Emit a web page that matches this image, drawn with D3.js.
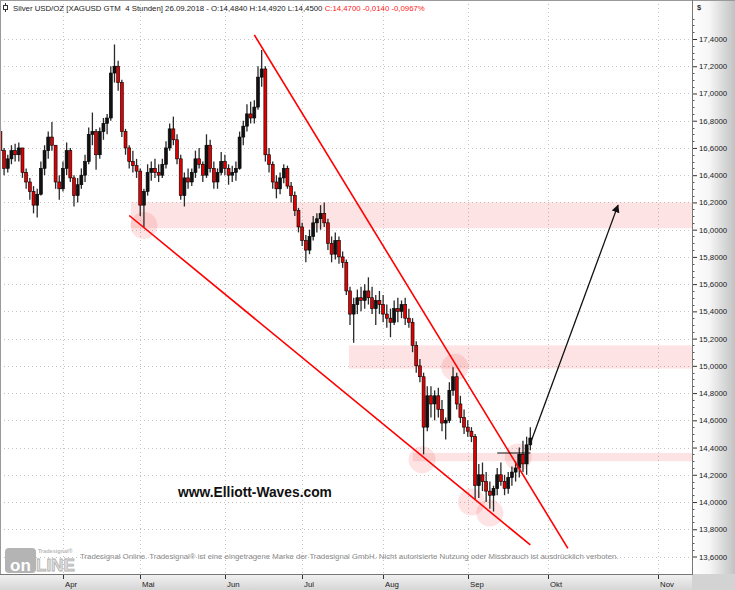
<!DOCTYPE html>
<html>
<head>
<meta charset="utf-8">
<script src="https://cdn.jsdelivr.net/npm/d3@7"></script>
<style>
  html, body { margin: 0; padding: 0; background: #fff; }
  svg { display: block; font-family: "Liberation Sans", Arial, sans-serif; }
</style>
</head>
<body>
<svg id="chart" width="735" height="590"></svg>
<script>
// ===== data: daily OHLC (8 Mar - 26 Sep 2018) =====
var firstDay = "2018-03-08";
var lastDay = "2018-09-26";
var lastSlot = "2018-11-10";

var opens = [
  16.72,16.58,16.45,16.52,16.58,16.55,16.60,16.42,16.35,16.28,16.18,16.26,16.45,16.58,16.68,16.62,16.35,
  16.30,16.45,16.58,16.38,16.25,16.33,16.40,16.50,16.70,16.72,16.55,16.72,16.78,16.82,17.15,17.20,17.08,16.72,16.60,16.50,16.47,
  16.43,16.18,16.28,16.42,16.45,16.42,16.40,16.48,16.60,16.74,16.66,16.52,16.25,16.38,16.35,16.42,16.52,16.48,16.40,16.62,16.45,16.35,16.42,
  16.50,16.45,16.40,16.42,16.45,16.68,16.76,16.85,16.82,16.90,17.12,17.18,16.55,16.48,16.35,16.30,16.38,16.45,16.32,16.25,16.14,
  16.02,15.92,15.85,15.95,16.05,16.08,16.12,16.05,15.90,15.82,15.92,15.80,15.76,15.55,15.38,15.45,15.50,15.48,15.55,15.50,15.42,15.48,
  15.45,15.38,15.35,15.32,15.42,15.40,15.45,15.35,15.32,15.15,15.00,14.92,14.55,14.78,14.72,14.78,14.68,14.58,14.60,14.82,14.92,14.72,14.62,
  14.55,14.52,14.48,14.12,14.20,14.15,14.08,14.05,14.10,14.20,14.15,14.10,14.18,14.22,14.25,14.35,14.28,14.42
];
var highs = [
  16.75,16.60,16.55,16.62,16.63,16.64,16.60,16.45,16.38,16.32,16.30,16.50,16.62,16.72,16.79,16.62,16.40,
  16.50,16.64,16.60,16.40,16.38,16.45,16.55,16.75,16.86,16.74,16.75,16.82,16.85,17.20,17.36,17.24,17.10,16.74,16.62,16.58,16.52,
  16.45,16.30,16.48,16.50,16.52,16.48,16.52,16.65,16.78,16.83,16.70,16.55,16.42,16.45,16.45,16.58,16.60,16.50,16.70,16.66,16.50,16.45,16.57,
  16.55,16.48,16.47,16.50,16.72,16.80,16.92,16.94,16.95,17.20,17.32,17.20,16.60,16.50,16.40,16.42,16.48,16.47,16.35,16.28,16.16,
  16.05,15.96,16.00,16.10,16.12,16.18,16.20,16.08,15.95,15.98,15.95,15.84,15.78,15.58,15.50,15.56,15.58,15.60,15.65,15.58,15.52,15.55,
  15.52,15.45,15.42,15.48,15.50,15.48,15.50,15.42,15.35,15.18,15.05,14.95,14.85,14.85,14.82,14.84,14.75,14.62,14.88,14.99,14.95,14.78,14.68,
  14.60,14.55,14.50,14.28,14.29,14.22,14.15,14.12,14.25,14.29,14.20,14.22,14.26,14.30,14.40,14.45,14.48,14.55
];
var lows = [
  16.55,16.40,16.42,16.48,16.50,16.50,16.38,16.30,16.22,16.12,16.09,16.25,16.40,16.52,16.58,16.30,16.22,
  16.28,16.40,16.35,16.17,16.20,16.30,16.35,16.48,16.62,16.44,16.52,16.66,16.70,16.80,17.08,17.02,16.68,16.55,16.45,16.42,16.38,
  16.10,16.02,16.25,16.36,16.38,16.35,16.38,16.45,16.58,16.62,16.48,16.22,16.17,16.30,16.32,16.38,16.45,16.35,16.38,16.42,16.30,16.30,16.40,
  16.40,16.33,16.35,16.36,16.44,16.62,16.72,16.78,16.78,16.88,17.05,16.50,16.42,16.30,16.23,16.26,16.34,16.30,16.20,16.10,15.98,
  15.88,15.76,15.82,15.92,15.98,16.00,16.02,15.85,15.76,15.78,15.75,15.72,15.52,15.30,15.17,15.38,15.40,15.42,15.45,15.38,15.30,15.38,
  15.32,15.28,15.21,15.30,15.32,15.35,15.30,15.28,15.10,14.95,14.88,14.35,14.52,14.62,14.60,14.62,14.52,14.46,14.58,14.78,14.68,14.58,14.50,
  14.48,14.44,14.02,14.03,14.08,14.00,13.95,13.93,14.05,14.12,14.05,14.06,14.12,14.15,14.18,14.22,14.20,14.38
];
var closes = [
  16.58,16.45,16.52,16.58,16.55,16.60,16.42,16.35,16.28,16.18,16.26,16.45,16.58,16.68,16.62,16.35,16.30,
  16.45,16.58,16.38,16.25,16.33,16.40,16.50,16.70,16.72,16.55,16.72,16.78,16.82,17.15,17.20,17.08,16.72,16.60,16.50,16.47,16.43,
  16.18,16.28,16.42,16.45,16.42,16.40,16.48,16.60,16.74,16.66,16.52,16.25,16.38,16.35,16.42,16.52,16.48,16.40,16.62,16.45,16.35,16.42,16.50,
  16.45,16.40,16.42,16.45,16.68,16.76,16.85,16.82,16.90,17.12,17.18,16.55,16.48,16.35,16.30,16.38,16.45,16.32,16.25,16.14,16.02,
  15.92,15.85,15.95,16.05,16.08,16.12,16.05,15.90,15.82,15.92,15.80,15.76,15.55,15.38,15.45,15.50,15.48,15.55,15.50,15.42,15.48,15.45,
  15.38,15.35,15.32,15.42,15.40,15.45,15.35,15.32,15.15,15.00,14.92,14.55,14.78,14.72,14.78,14.68,14.58,14.60,14.82,14.92,14.72,14.62,14.55,
  14.52,14.48,14.12,14.20,14.15,14.08,14.05,14.10,14.20,14.15,14.10,14.18,14.22,14.25,14.35,14.28,14.42,14.47
];

var priceTicks = [13.6, 13.8, 14.0, 14.2, 14.4, 14.6, 14.8, 15.0, 15.2, 15.4, 15.6, 15.8, 16.0, 16.2, 16.4, 16.6, 16.8, 17.0, 17.2, 17.4];
var monthNames = ["Jan", "Feb", "Mär", "Apr", "Mai", "Jun", "Jul", "Aug", "Sep", "Okt", "Nov", "Dez"];

// annotations (date, price)
var upperLine = [["2018-06-13 00:00", 17.43], ["2018-10-06 14:00", 13.66]];
var lowerLine = [["2018-04-26 00:00", 16.104], ["2018-09-26 00:00", 13.685]];
var zones = [
  ["2018-04-26 12:00", 16.20, 16.01],
  ["2018-07-18 17:00", 15.15, 14.98],
  ["2018-08-13 02:00", 14.36, 14.30]
];
var circles = [
  ["2018-05-02 00:00", 16.03],
  ["2018-08-28 12:00", 14.99],
  ["2018-08-15 14:00", 14.31],
  ["2018-09-04 00:00", 14.00],
  ["2018-09-11 00:00", 13.92],
  ["2018-09-20 17:00", 14.33]
];
var resistance = [["2018-09-13 00:00", 14.36], ["2018-09-26 00:00", 14.36]];
var target = [["2018-09-26 00:00", 14.43], ["2018-10-20 17:00", 16.18]];

var headerText = "Silver USD/OZ [XAGUSD GTM  4 Stunden] 26.09.2018 - O:14,4840 H:14,4920 L:14,4500 ";
var headerLast = "C:14,4700 -0,0140 -0,0967%";
var footerText = "Tradesignal Online. Tradesignal\u00AE ist eine eingetragene Marke der Tradesignal GmbH. Nicht autorisierte Nutzung oder Missbrauch ist ausdr\u00FCcklich verboten.";

// ===== layout =====
var width = 735, height = 590;
var plotRight = 692, plotBottom = 574;
var barStep = 3.68, futureStep = 3.55;

var parseDay = d3.timeParse("%Y-%m-%d");
var parseTime = d3.timeParse("%Y-%m-%d %H:%M");
var dayKey = d3.timeFormat("%Y-%m-%d");

// bar slots: trading days, then calendar days for the blank future area
var tradingDays = d3.timeDay.range(parseDay(firstDay), d3.timeDay.offset(parseDay(lastDay), 1))
  .filter(function (d) { return d.getDay() !== 0 && d.getDay() !== 6; });
var futureDays = d3.timeDay.range(d3.timeDay.offset(parseDay(lastDay), 1), d3.timeDay.offset(parseDay(lastSlot), 1));
var slots = tradingDays.concat(futureDays);
var slotIndex = {};
slots.forEach(function (d, i) { slotIndex[dayKey(d)] = i; });

function slotPos(str) {
  var t = parseTime(str);
  var day = d3.timeDay.floor(t);
  return slotIndex[dayKey(day)] + (t - day) / 864e5;
}

var nLast = tradingDays.length - 1;
var x = d3.scaleLinear()
  .domain([0, nLast, slots.length - 1])
  .range([0.4, 0.4 + nLast * barStep, 0.4 + nLast * barStep + (slots.length - 1 - nLast) * futureStep]);

var y = d3.scaleLinear()
  .domain([13.6, 17.4])
  .range([556.5, 39]);

var locale = d3.formatLocale({ decimal: ",", thousands: ".", grouping: [3], currency: ["", "$"] });
var fmt = locale.format(".4f");

var svg = d3.select("#chart");
var defs = svg.append("defs");

var gRight = defs.append("linearGradient").attr("id", "gradRight");
gRight.append("stop").attr("offset", "0%").attr("stop-color", "#ffffff");
gRight.append("stop").attr("offset", "40%").attr("stop-color", "#f6f6f6");
gRight.append("stop").attr("offset", "100%").attr("stop-color", "#c2c2c2");

var gBottom = defs.append("linearGradient").attr("id", "gradBottom")
  .attr("x1", 0).attr("y1", 0).attr("x2", 0).attr("y2", 1);
gBottom.append("stop").attr("offset", "0%").attr("stop-color", "#f2f2f2");
gBottom.append("stop").attr("offset", "100%").attr("stop-color", "#d6d6d6");

// ===== grid =====
var monthTicks = [];
slots.forEach(function (d, i) {
  if (i > 0 && d.getMonth() !== slots[i - 1].getMonth()) {
    monthTicks.push({ i: i, label: monthNames[d.getMonth()] });
  }
});

svg.append("g").selectAll("line")
  .data(priceTicks)
  .enter().append("line")
  .attr("x1", 0).attr("x2", plotRight)
  .attr("y1", function (d) { return Math.round(y(d)) + 0.5; })
  .attr("y2", function (d) { return Math.round(y(d)) + 0.5; })
  .attr("stroke", "#c4c4c4")
  .attr("stroke-dasharray", "1,3");

svg.append("g").selectAll("line")
  .data(monthTicks)
  .enter().append("line")
  .attr("x1", function (d) { return Math.round(x(d.i)) + 0.5; })
  .attr("x2", function (d) { return Math.round(x(d.i)) + 0.5; })
  .attr("y1", 0).attr("y2", plotBottom)
  .attr("stroke", "#c4c4c4")
  .attr("stroke-dasharray", "1,3");

// ===== zones and circles =====
svg.append("g").selectAll("rect")
  .data(zones)
  .enter().append("rect")
  .attr("x", function (d) { return x(slotPos(d[0])); })
  .attr("y", function (d) { return y(d[1]); })
  .attr("width", function (d) { return plotRight - x(slotPos(d[0])); })
  .attr("height", function (d) { return y(d[2]) - y(d[1]); })
  .attr("fill", "rgba(240,70,70,0.15)");

svg.append("g").selectAll("circle")
  .data(circles)
  .enter().append("circle")
  .attr("cx", function (d) { return x(slotPos(d[0])); })
  .attr("cy", function (d) { return y(d[1]); })
  .attr("r", 13.5)
  .attr("fill", "rgba(240,70,70,0.15)");

// ===== candles =====
var bars = svg.append("g").selectAll("g")
  .data(closes)
  .enter().append("g");

bars.append("line")
  .attr("x1", function (d, i) { return x(i); })
  .attr("x2", function (d, i) { return x(i); })
  .attr("y1", function (d, i) { return y(highs[i]); })
  .attr("y2", function (d, i) { return y(lows[i]); })
  .attr("stroke", "#2a2a2a")
  .attr("stroke-width", 1.3);

bars.append("rect")
  .attr("x", function (d, i) { return x(i) - 1.5; })
  .attr("width", 3)
  .attr("y", function (d, i) { return y(Math.max(opens[i], d)); })
  .attr("height", function (d, i) { return Math.max(1, Math.abs(y(opens[i]) - y(d))); })
  .attr("fill", function (d, i) { return d < opens[i] ? "#e10000" : "#111"; })
  .attr("stroke", "#000")
  .attr("stroke-width", 0.6);

// ===== trend lines and arrow =====
var line = d3.line()
  .x(function (d) { return x(slotPos(d[0])); })
  .y(function (d) { return y(d[1]); });

svg.append("path").attr("d", line(upperLine))
  .attr("fill", "none").attr("stroke", "#ff0000").attr("stroke-width", 1.6);
svg.append("path").attr("d", line(lowerLine))
  .attr("fill", "none").attr("stroke", "#ff0000").attr("stroke-width", 1.6);
svg.append("path").attr("d", line(resistance))
  .attr("fill", "none").attr("stroke", "#111").attr("stroke-width", 1.2);

defs.append("marker")
  .attr("id", "arrow")
  .attr("viewBox", "0 0 10 10")
  .attr("refX", 9).attr("refY", 5)
  .attr("markerWidth", 8).attr("markerHeight", 8)
  .attr("markerUnits", "userSpaceOnUse")
  .attr("orient", "auto")
  .append("path").attr("d", "M0,0 L10,5 L0,10 z").attr("fill", "#111");

svg.append("path").attr("d", line(target))
  .attr("fill", "none").attr("stroke", "#111").attr("stroke-width", 1.3)
  .attr("marker-end", "url(#arrow)");

// ===== texts in plot =====
svg.append("text")
  .attr("x", 178).attr("y", 497)
  .style("font-size", "13.8px").style("font-weight", "bold")
  .attr("fill", "#111")
  .text("www.Elliott-Waves.com");

svg.append("text")
  .attr("x", 80).attr("y", 559)
  .style("font-size", "7.8px")
  .attr("fill", "#8a8a8a")
  .text(footerText);

// logo
svg.append("rect").attr("x", 5).attr("y", 548).attr("width", 31).attr("height", 25).attr("rx", 4)
  .attr("fill", "#b4b4b4");
svg.append("text").attr("x", 20.5).attr("y", 571).attr("text-anchor", "middle")
  .style("font-size", "17px").style("font-weight", "bold").attr("fill", "#fff").text("on");
svg.append("text").attr("x", 36).attr("y", 571)
  .style("font-size", "17px").style("font-weight", "bold")
  .attr("fill", "#e4e4e4").attr("stroke", "#b0b0b0").attr("stroke-width", 0.8).text("LINE");
svg.append("text").attr("x", 38).attr("y", 553)
  .style("font-size", "5.5px").style("font-weight", "bold").attr("fill", "#b8b8b8").text("Tradesignal\u00AE");

// header
var hdr = svg.append("g");
hdr.append("line").attr("x1", 5.5).attr("x2", 5.5).attr("y1", 3).attr("y2", 12).attr("stroke", "#333");
hdr.append("rect").attr("x", 3.5).attr("y", 5.5).attr("width", 4).attr("height", 4).attr("fill", "#fff").attr("stroke", "#333");
var hText = hdr.append("text")
  .attr("x", 13).attr("y", 10.5)
  .style("font-size", "7.8px").style("white-space", "pre")
  .attr("fill", "#222");
hText.append("tspan").text(headerText);
hText.append("tspan").attr("fill", "#ff2020").text(headerLast);

// ===== axes panels =====
svg.append("rect").attr("x", plotRight).attr("y", 0).attr("width", width - plotRight).attr("height", plotBottom)
  .attr("fill", "url(#gradRight)");
svg.append("rect").attr("x", 0).attr("y", plotBottom).attr("width", plotRight).attr("height", height - plotBottom)
  .attr("fill", "url(#gradBottom)");
svg.append("rect").attr("x", plotRight).attr("y", plotBottom).attr("width", width - plotRight).attr("height", height - plotBottom)
  .attr("fill", "#d3d3d3");

// frame
svg.append("line").attr("x1", 0).attr("x2", width).attr("y1", 0.5).attr("y2", 0.5).attr("stroke", "#9a9a9a");
svg.append("line").attr("x1", 0.5).attr("x2", 0.5).attr("y1", 0).attr("y2", plotBottom).attr("stroke", "#9a9a9a");
svg.append("line").attr("x1", 0).attr("x2", plotRight).attr("y1", plotBottom + 0.5).attr("y2", plotBottom + 0.5).attr("stroke", "#777");
svg.append("line").attr("x1", plotRight + 0.5).attr("x2", plotRight + 0.5).attr("y1", 0).attr("y2", plotBottom + 1).attr("stroke", "#777");

// y axis (right)
var yAxis = d3.axisRight(y)
  .tickValues(priceTicks)
  .tickSize(4)
  .tickPadding(2)
  .tickFormat(fmt);

var yG = svg.append("g")
  .attr("transform", "translate(" + (plotRight + 1) + ",0)")
  .call(yAxis);
yG.select(".domain").remove();
yG.selectAll("line").attr("stroke", "#333");
yG.selectAll("text").style("font-size", "7.8px").style("font-family", "'Liberation Sans', Arial, sans-serif").attr("fill", "#222");

var minorTicks = [];
priceTicks.forEach(function (p) { minorTicks.push(p + 0.05, p + 0.1, p + 0.15); });
svg.append("g").selectAll("line")
  .data(minorTicks.filter(function (p) { return y(p) > 14; }))
  .enter().append("line")
  .attr("x1", plotRight + 1).attr("x2", plotRight + 2.5)
  .attr("y1", function (d) { return Math.round(y(d)) + 0.5; })
  .attr("y2", function (d) { return Math.round(y(d)) + 0.5; })
  .attr("stroke", "#555");

svg.append("text").attr("x", 697).attr("y", 10)
  .style("font-size", "7.5px").style("font-weight", "bold").attr("fill", "#333").text("$");

// x axis (bottom) month labels
var xG = svg.append("g");
xG.selectAll("line")
  .data(monthTicks)
  .enter().append("line")
  .attr("x1", function (d) { return Math.round(x(d.i)) + 0.5; })
  .attr("x2", function (d) { return Math.round(x(d.i)) + 0.5; })
  .attr("y1", plotBottom + 1).attr("y2", plotBottom + 5)
  .attr("stroke", "#333");
xG.selectAll("text")
  .data(monthTicks)
  .enter().append("text")
  .attr("x", function (d) { return Math.round(x(d.i)) + 2; })
  .attr("y", 587)
  .style("font-size", "7.8px")
  .attr("fill", "#222")
  .text(function (d) { return d.label; });
</script>
</body>
</html>
